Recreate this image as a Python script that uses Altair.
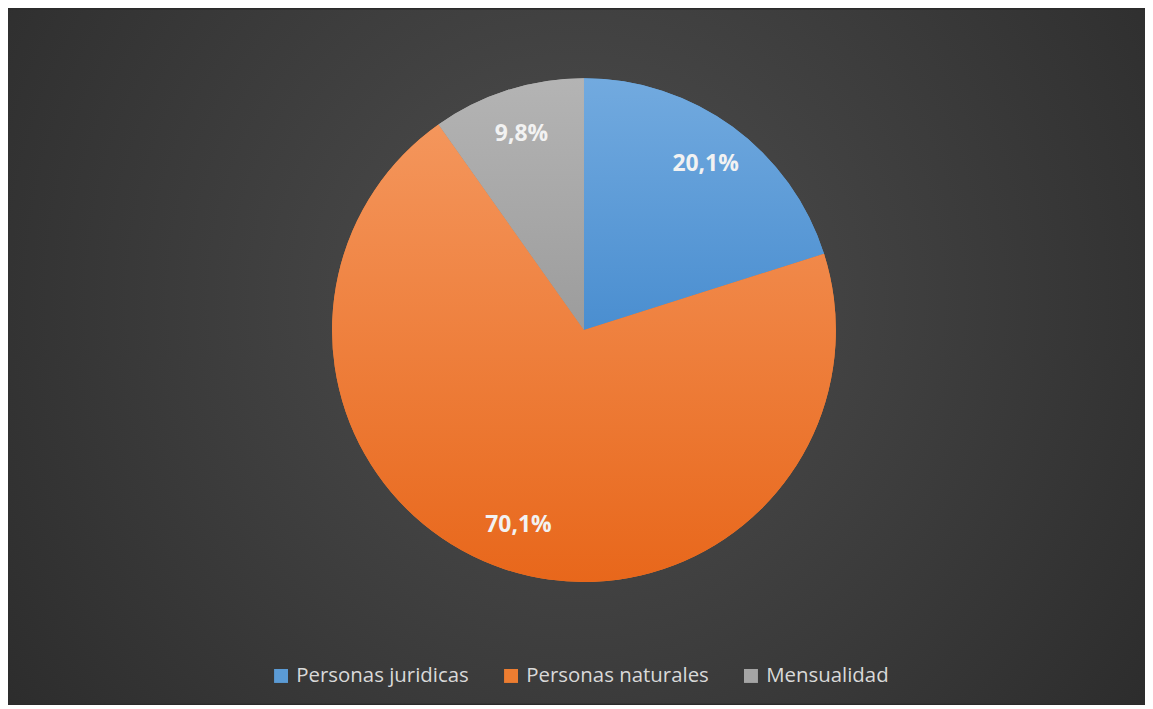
import math
import altair as alt
import pandas as pd

categories = ["Personas juridicas", "Personas naturales", "Mensualidad"]
values = [20.1, 70.1, 9.8]
labels = ["20,1%", "70,1%", "9,8%"]
colors = ["#5b9bd5", "#ed7d31", "#a5a5a5"]
grad_top = ["#72aadf", "#f4965c", "#b4b4b4"]
grad_bottom = ["#4a8ed0", "#e8671b", "#9c9c9c"]

start, acc = [], 0.0
for v in values:
    start.append(acc)
    acc += v
df = pd.DataFrame({
    "cat": categories,
    "value": values,
    "label": labels,
    "start": start,
    "end": [s + v for s, v in zip(start, values)],
})
df["mid"] = (df["start"] + df["end"]) / 2

W, H = 1142, 697
CX, CY, R = 578.5, 322, 253

theta_scale = alt.Scale(domain=[0, 100], range=[0, 2 * math.pi])

base = alt.Chart(df)

bg = alt.Gradient(
    gradient="radial", x1=0.5, y1=0.45, r1=0, x2=0.5, y2=0.45, r2=0.75,
    stops=[alt.GradientStop(offset=0, color="#4f4f4f"),
           alt.GradientStop(offset=1, color="#252525")],
)
background = alt.Chart(pd.DataFrame({"k": [0]})).mark_rect(fill=bg).encode(
    x=alt.value(0), x2=alt.value(W), y=alt.value(0), y2=alt.value(H)
)

solid = base.mark_arc(radius=R).encode(
    x=alt.value(CX), y=alt.value(CY),
    theta=alt.Theta("start:Q", scale=theta_scale),
    theta2="end:Q",
    color=alt.Color(
        "cat:N",
        scale=alt.Scale(domain=categories, range=colors),
        sort=categories,
        legend=alt.Legend(
            title=None, orient="none", direction="horizontal",
            legendX=264, legendY=659,
            symbolType="square", symbolSize=196, symbolStrokeWidth=0,
            labelFont="Open Sans", labelFontSize=20.5, labelColor="#d9d9d9",
            labelLimit=400, labelOffset=5, columnPadding=32, padding=0,
        ),
    ),
)

layers = [background, solid]
for cat, top, bot in zip(categories, grad_top, grad_bottom):
    g = alt.Gradient(
        gradient="linear", x1=0, y1=0, x2=0, y2=1,
        stops=[alt.GradientStop(offset=0, color=top),
               alt.GradientStop(offset=1, color=bot)],
    )
    layers.append(
        base.transform_filter(alt.datum.cat == cat)
        .mark_arc(radius=R, fill=g)
        .encode(
            x=alt.value(CX), y=alt.value(CY),
            theta=alt.Theta("start:Q", scale=theta_scale),
            theta2="end:Q",
        )
    )

text = base.mark_text(
    radius=207, font="Open Sans", fontWeight="bold", fontSize=23,
    fill="#f2f2f2", align="center", baseline="middle",
).encode(
    x=alt.value(CX), y=alt.value(CY),
    theta=alt.Theta("mid:Q", scale=theta_scale),
    text="label:N",
)
layers.append(text)

chart = alt.layer(*layers).properties(
    width=W, height=H, padding=0, autosize="none",
).configure(background="#2b2b2b").configure_view(strokeWidth=0)

chart.save("out.html", embed_options={"renderer": "svg", "actions": False})
